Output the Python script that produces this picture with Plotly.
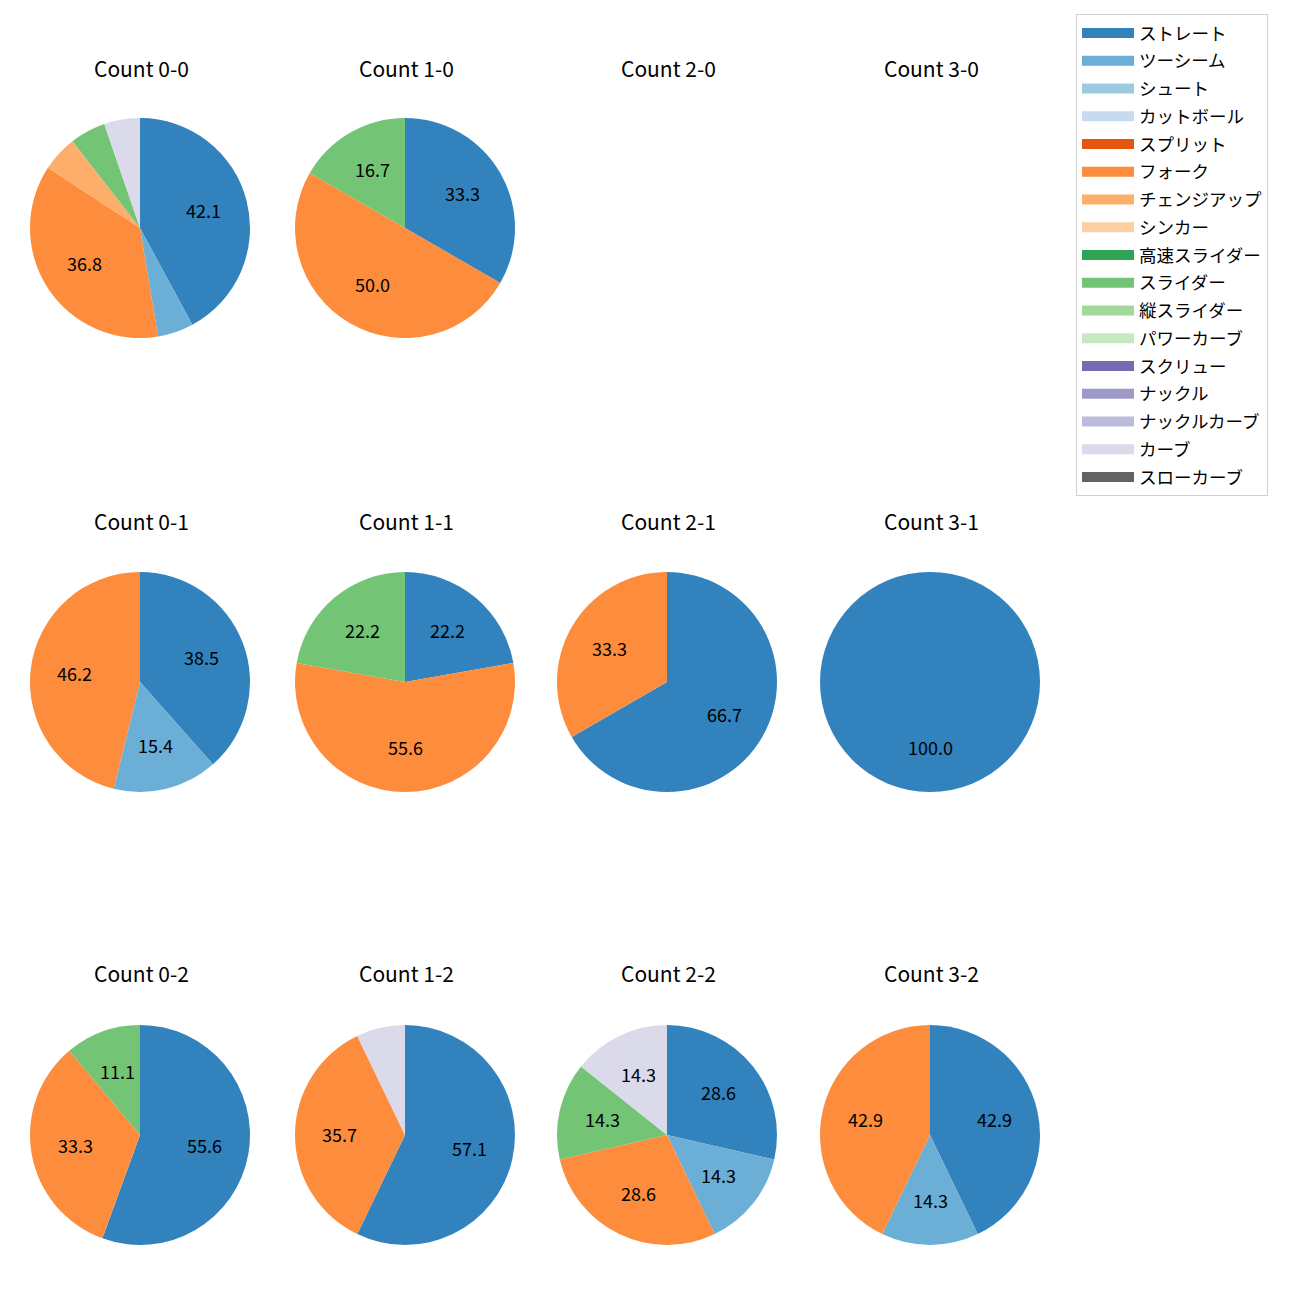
import math
import plotly.graph_objects as go

# ---------------- data ----------------
pitch_types = ["ストレート", "ツーシーム", "シュート", "カットボール", "スプリット", "フォーク",
               "チェンジアップ", "シンカー", "高速スライダー", "スライダー", "縦スライダー",
               "パワーカーブ", "スクリュー", "ナックル", "ナックルカーブ", "カーブ", "スローカーブ"]
pitch_colors = ["#3182bd", "#6baed6", "#9ecae1", "#c6dbef", "#e6550d", "#fd8d3c",
                "#fdae6b", "#fdd0a2", "#31a354", "#74c476", "#a1d99b", "#c7e9c0",
                "#756bb1", "#9e9ac8", "#bcbddc", "#dadaeb", "#636363"]

count_titles = ["Count 0-0", "Count 1-0", "Count 2-0", "Count 3-0",
                "Count 0-1", "Count 1-1", "Count 2-1", "Count 3-1",
                "Count 0-2", "Count 1-2", "Count 2-2", "Count 3-2"]

labels_00 = ["ストレート", "ツーシーム", "フォーク", "チェンジアップ", "スライダー", "カーブ"]
values_00 = [8, 1, 7, 1, 1, 1]
labels_10 = ["ストレート", "フォーク", "スライダー"]
values_10 = [2, 3, 1]
labels_20 = []
values_20 = []
labels_30 = []
values_30 = []
labels_01 = ["ストレート", "ツーシーム", "フォーク"]
values_01 = [5, 2, 6]
labels_11 = ["ストレート", "フォーク", "スライダー"]
values_11 = [2, 5, 2]
labels_21 = ["ストレート", "フォーク"]
values_21 = [2, 1]
labels_31 = ["ストレート"]
values_31 = [1]
labels_02 = ["ストレート", "フォーク", "スライダー"]
values_02 = [5, 3, 1]
labels_12 = ["ストレート", "フォーク", "カーブ"]
values_12 = [8, 5, 1]
labels_22 = ["ストレート", "ツーシーム", "フォーク", "スライダー", "カーブ"]
values_22 = [2, 1, 2, 1, 1]
labels_32 = ["ストレート", "ツーシーム", "フォーク"]
values_32 = [3, 1, 3]

all_labels = [labels_00, labels_10, labels_20, labels_30,
              labels_01, labels_11, labels_21, labels_31,
              labels_02, labels_12, labels_22, labels_32]
all_values = [values_00, values_10, values_20, values_30,
              values_01, values_11, values_21, values_31,
              values_02, values_12, values_22, values_32]

# ---------------- layout geometry ----------------
W = H = 1300
OFF = 8  # page body margin
col_centers = [140, 405, 667, 930]
row_centers = [228, 682, 1135]
title_y = [68, 521, 973]
R = 110
FONT = "Noto Sans CJK JP, Noto Sans, sans-serif"
color_of = dict(zip(pitch_types, pitch_colors))


def px_x(x):
    return (x - OFF) / W


def px_y(y):
    return 1 - (y - OFF) / H


fig = go.Figure()
annotations = []

for i, (title, labs, vals) in enumerate(zip(count_titles, all_labels, all_values)):
    r_i, c_i = divmod(i, 4)
    cx, cy = col_centers[c_i], row_centers[r_i]
    annotations.append(dict(text=title, x=px_x(cx + 1), y=px_y(title_y[r_i]), xref="paper", yref="paper",
                            showarrow=False, xanchor="center", yanchor="middle",
                            font=dict(family=FONT, size=21, color="black")))
    if not vals:
        continue
    fig.add_trace(go.Pie(
        labels=labs, values=vals, sort=False, direction="clockwise", rotation=0,
        marker=dict(colors=[color_of[l] for l in labs], line=dict(width=0)),
        textinfo="none", showlegend=False,
        domain=dict(x=[px_x(cx - R), px_x(cx + R)], y=[px_y(cy + R), px_y(cy - R)]),
    ))
    total = sum(vals)
    cum = 0.0
    for v in vals:
        frac = v / total
        pct = frac * 100
        ang = math.radians(90 - 360 * (cum + frac / 2))
        cum += frac
        if pct < 10:
            continue
        px = cx + 0.6 * R * math.cos(ang)
        py = cy - 0.6 * R * math.sin(ang) - 1.5
        annotations.append(dict(text=f"{pct:.1f}", x=px_x(px), y=px_y(py), xref="paper", yref="paper",
                                showarrow=False, xanchor="center", yanchor="middle",
                                font=dict(family=FONT, size=18, color="black")))

# legend entries
for name, col in zip(pitch_types, pitch_colors):
    fig.add_trace(go.Scatter(x=[None], y=[None], mode="lines", name=name, legendgroup=name,
                             line=dict(color=col, width=13), showlegend=True, hoverinfo="skip"))

fig.update_layout(
    width=W, height=H,
    margin=dict(l=0, r=0, t=0, b=0),
    paper_bgcolor="white", plot_bgcolor="white",
    xaxis=dict(visible=False), yaxis=dict(visible=False),
    annotations=annotations,
    legend=dict(x=px_x(1076), y=px_y(14), xanchor="left", yanchor="top",
                bgcolor="white", bordercolor="#d0d0d0", borderwidth=1,
                font=dict(family=FONT, size=17.5, color="black"),
                tracegroupgap=2, itemwidth=52),
    font=dict(family=FONT),
)

fig.write_html("out.html")
